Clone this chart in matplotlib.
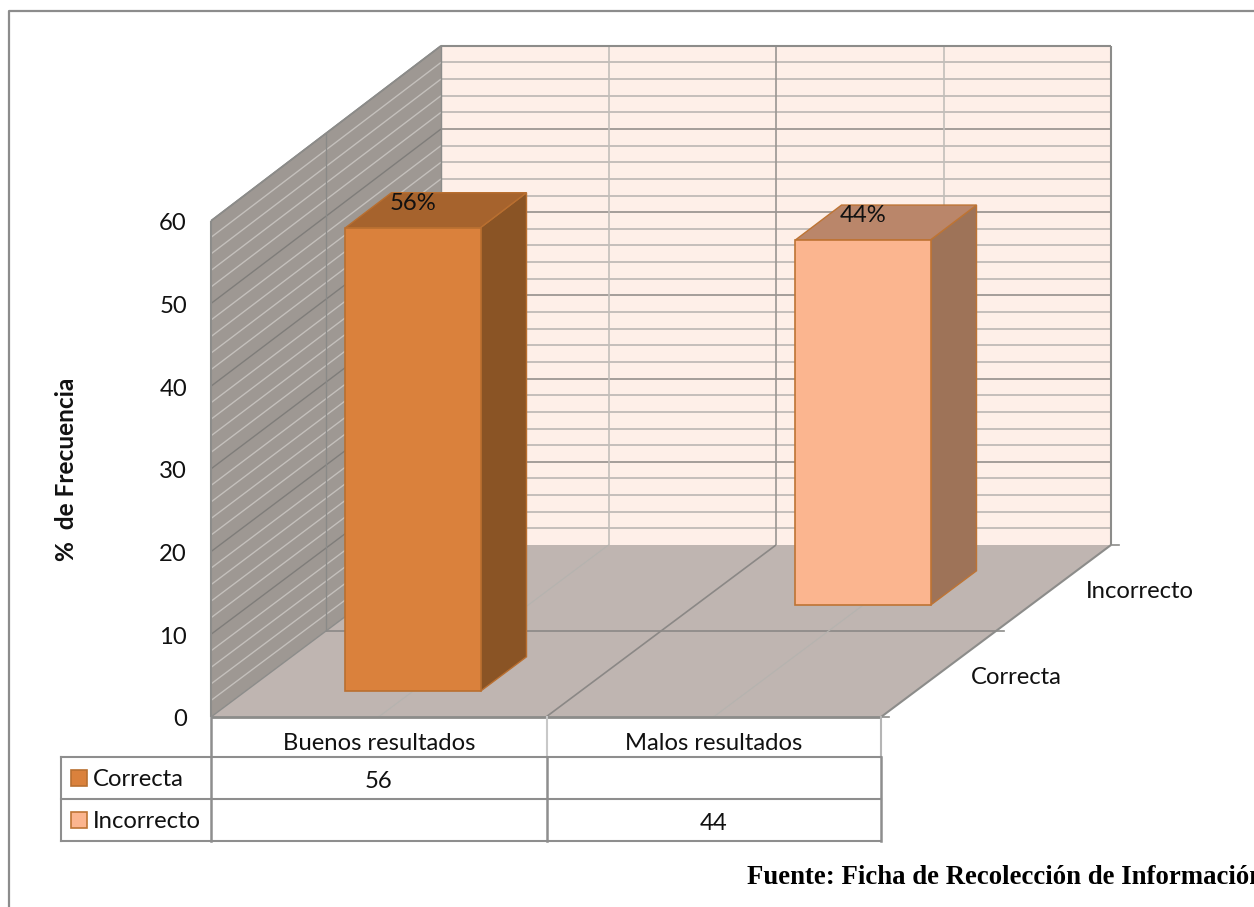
import matplotlib
matplotlib.use("Agg")
import matplotlib.pyplot as plt
from matplotlib.patches import Polygon, Rectangle

categorias = ["Buenos resultados", "Malos resultados"]
series = ["Correcta", "Incorrecto"]
correcta = [56, None]
incorrecto = [None, 44]
etiquetas = ["56%", "44%"]
ticks_y = [0, 10, 20, 30, 40, 50, 60]

ancho_barra = 0.403
fondo_barra = 0.40
ymax = 60

col_frente = ["#DA813C", "#FBB58F"]
col_techo = ["#A6632D", "#BA866A"]
col_lado = ["#8A5425", "#9E7358"]
col_borde = ["#B96F30", "#BE7434"]


# proyeccion oblicua: categoria, valor, serie -> pixeles
def proy(x, y, z):
    return (211 + 335 * x + 115 * z, 717 - (8.27 + 0.025 * z) * y - 86 * z)


def cara(ax, puntos, color, borde="none", lw=0.0, zorder=1):
    ax.add_patch(Polygon([proy(*p) for p in puntos], closed=True, facecolor=color,
                         edgecolor=borde, linewidth=lw, zorder=zorder))


def linea(ax, p0, p1, color, lw=1.2, zorder=2):
    a, b = proy(*p0), proy(*p1)
    ax.plot([a[0], b[0]], [a[1], b[1]], color=color, lw=lw, zorder=zorder,
            solid_capstyle="butt")


def barra(ax, icat, iserie, valor, etiqueta):
    x0 = icat + 0.5 - ancho_barra / 2
    x1 = icat + 0.5 + ancho_barra / 2
    z0 = iserie + 0.5 - fondo_barra / 2
    z1 = iserie + 0.5 + fondo_barra / 2
    b = col_borde[iserie]
    cara(ax, [(x1, 0, z0), (x1, 0, z1), (x1, valor, z1), (x1, valor, z0)], col_lado[iserie], b, 1.0, 5)
    cara(ax, [(x0, valor, z0), (x1, valor, z0), (x1, valor, z1), (x0, valor, z1)], col_techo[iserie], b, 1.0, 5)
    cara(ax, [(x0, 0, z0), (x1, 0, z0), (x1, valor, z0), (x0, valor, z0)], col_frente[iserie], b, 1.2, 6)
    px, py = proy(icat + 0.5, valor, iserie + 0.5)
    ax.text(px - 23, py - 7, etiqueta, ha="center", va="center",
            fontsize=fs, color="#111111", zorder=7)


fs = 17.2
plt.rcParams["font.family"] = ["Lato", "DejaVu Sans"]

fig = plt.figure(figsize=(12.54, 9.07), dpi=100)
ax = fig.add_axes([0, 0, 1, 1])
ax.set_xlim(0, 1254)
ax.set_ylim(907, 0)
ax.axis("off")

# marco del grafico
ax.plot([8.5, 8.5, 1254], [907, 11, 11], color="#8C8C8C", lw=1.6, zorder=1)

# paredes y piso
cara(ax, [(0, 0, 2), (2, 0, 2), (2, ymax, 2), (0, ymax, 2)], "#FEEFE8")
cara(ax, [(0, 0, 0), (0, 0, 2), (0, ymax, 2), (0, ymax, 0)], "#9E9893")
cara(ax, [(0, 0, 0), (2, 0, 0), (2, 0, 2), (0, 0, 2)], "#BFB5B1")

# rejilla: menores cada 2, mayores cada 10
for v in range(2, ymax + 1, 2):
    mayor = v % 10 == 0
    linea(ax, (0, v, 2), (2, v, 2), "#9D9793" if mayor else "#BBB6B2", 1.3 if mayor else 1.2)
    linea(ax, (0, v, 0), (0, v, 2), "#7F7D7A" if mayor else "#C4C0BC", 1.0)

# verticales de fondo y pared izquierda
linea(ax, (0.5, 0, 2), (0.5, ymax, 2), "#C2BEBA")
linea(ax, (1, 0, 2), (1, ymax, 2), "#9A9592")
linea(ax, (1.5, 0, 2), (1.5, ymax, 2), "#C2BEBA")
linea(ax, (0, 0, 1), (0, ymax, 1), "#8A8A88", 1.0)

# lineas del piso
linea(ax, (1, 0, 0), (1, 0, 2), "#8B8886")
linea(ax, (0, 0, 1), (2, 0, 1), "#8B8886")
linea(ax, (0.5, 0, 0), (0.5, 0, 2), "#B5B3AF", 0.8)
linea(ax, (1.5, 0, 0), (1.5, 0, 2), "#B5B3AF", 0.8)

# bordes
linea(ax, (0, ymax, 0), (0, ymax, 2), "#8C8C8A", 1.2, 3)
linea(ax, (0, ymax, 2), (2, ymax, 2), "#8C8C8A", 1.5, 3)
linea(ax, (2, 0, 2), (2, ymax, 2), "#8C8C8A", 1.5, 3)
linea(ax, (0, ymax, 2), (0, 0, 2), "#8C8C8A", 1.0, 3)
linea(ax, (0, 0, 0), (0, ymax, 0), "#8C8C8A", 1.5, 3)
linea(ax, (0, 0, 0), (2, 0, 0), "#8C8C8A", 2.0, 3)
linea(ax, (2, 0, 0), (2, 0, 2), "#8C8C8A", 1.5, 3)
linea(ax, (0, 0, 0), (0, 0, 2), "#8C8C8A", 1.0, 3)
for z in range(3):
    a = proy(2, 0, z)
    ax.plot([a[0], a[0] + 8], [a[1], a[1]], color="#8C8C8A", lw=1.2, zorder=3)

# barras, de atras hacia adelante
barra(ax, 1, 1, incorrecto[1], etiquetas[1])
barra(ax, 0, 0, correcta[0], etiquetas[0])

# eje de valores
for t in ticks_y:
    ax.text(187, proy(0, t, 0)[1] + 3, str(t), ha="right", va="center", fontsize=fs, color="#111111")
ax.text(67, 469, "%  de Frecuencia", rotation=90, ha="center", va="center",
        fontsize=17.6, fontweight="bold", color="#111111")

# eje de series
ax.text(1140, 591, series[1], ha="center", va="center", fontsize=fs, color="#111111")
ax.text(1016, 677, series[0], ha="center", va="center", fontsize=fs, color="#111111")

# tabla de datos
col_x = [61, 211, 547, 881]
fil_y = [717, 757, 799, 841]
col_tabla = "#8E8E8E"
ax.plot([211, 211], [717, 841], color=col_tabla, lw=1.8, zorder=3)
ax.plot([547, 547], [717, 757], color="#C8C8C8", lw=1.5, zorder=3)
ax.plot([881, 881], [717, 757], color="#B5B5B5", lw=1.5, zorder=3)
ax.plot([547, 547], [757, 841], color=col_tabla, lw=1.8, zorder=3)
ax.plot([881, 881], [757, 841], color=col_tabla, lw=1.8, zorder=3)
ax.plot([61, 61], [757, 841], color=col_tabla, lw=1.5, zorder=3)
for y in fil_y[1:]:
    ax.plot([61, 881], [y, y], color=col_tabla, lw=1.5, zorder=3)

for i, cat in enumerate(categorias):
    ax.text((col_x[i + 1] + col_x[i + 2]) / 2, 744, cat, ha="center", va="center", fontsize=fs, color="#111111")

valores = [correcta, incorrecto]
for f, nombre in enumerate(series):
    yc = (fil_y[f + 1] + fil_y[f + 2]) / 2
    ax.add_patch(Rectangle((71, yc - 8), 16, 16, facecolor=col_frente[f], edgecolor=col_borde[f], lw=1.2, zorder=4))
    ax.text(93, yc + 2, nombre, ha="left", va="center", fontsize=fs, color="#111111")
    for c, v in enumerate(valores[f]):
        if v is not None:
            ax.text((col_x[c + 1] + col_x[c + 2]) / 2, yc + 3, str(v), ha="center", va="center",
                    fontsize=fs, color="#111111")

ax.text(747, 878, "Fuente: Ficha de Recolección de Información", ha="left", va="center",
        fontsize=19.3, fontweight="bold", family=["Liberation Serif"], color="black")

fig.savefig("out.png", dpi=100)
